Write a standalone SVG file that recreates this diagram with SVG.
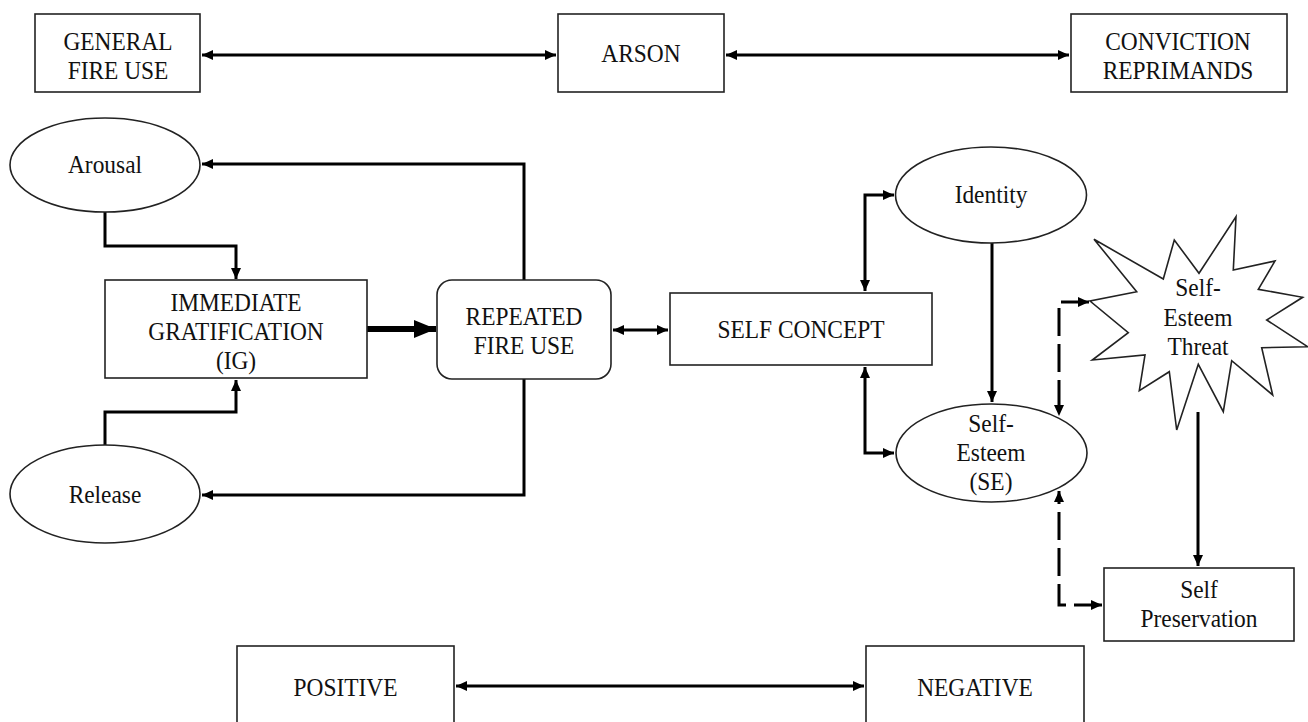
<svg xmlns="http://www.w3.org/2000/svg" width="1308" height="722" viewBox="0 0 1308 722" font-family="Liberation Serif, Times New Roman, serif">
<defs>
<style>
.box{fill:#fff;stroke:#222;stroke-width:1.6}
.t{font-size:26px;fill:#111;text-anchor:middle}
.c{fill:none;stroke:#000;stroke-width:3}
.d{fill:none;stroke:#000;stroke-width:3;stroke-dasharray:28 8}
</style>
<marker id="ah" markerUnits="userSpaceOnUse" markerWidth="11" markerHeight="10" refX="11" refY="5" orient="auto-start-reverse">
<path d="M0,0 L11,5 L0,10 z" fill="#000"/>
</marker>
<marker id="ahb" markerUnits="userSpaceOnUse" markerWidth="22" markerHeight="18" refX="22" refY="9" orient="auto">
<path d="M0,0 L22,9 L0,18 z" fill="#000"/>
</marker>
</defs>

<g id="connectors">
<path class="c" d="M202,55 H556" marker-start="url(#ah)" marker-end="url(#ah)"/>
<path class="c" d="M726,55 H1069" marker-start="url(#ah)" marker-end="url(#ah)"/>
<path class="c" d="M456,686 H864" marker-start="url(#ah)" marker-end="url(#ah)"/>
<path class="c" d="M105,212 V246 H236 V279" marker-end="url(#ah)"/>
<path class="c" d="M105,445 V412 H236 V380" marker-end="url(#ah)"/>
<path class="c" d="M524,280 V164 H202" marker-end="url(#ah)"/>
<path class="c" d="M524,379 V495 H202" marker-end="url(#ah)"/>
<path fill="none" stroke="#000" stroke-width="6" d="M367,329 H436" marker-end="url(#ahb)"/>
<path class="c" d="M613,330 H668" marker-start="url(#ah)" marker-end="url(#ah)"/>
<path class="c" d="M865,291 V195 H894" marker-start="url(#ah)" marker-end="url(#ah)"/>
<path class="c" d="M865,367 V453 H894" marker-start="url(#ah)" marker-end="url(#ah)"/>
<path class="c" d="M992,243 V402" marker-end="url(#ah)"/>
<path class="c" d="M1198,412 V566" marker-end="url(#ah)"/>
<path class="d" d="M1089,302 H1059 V416" marker-start="url(#ah)" marker-end="url(#ah)"/>
<path class="d" d="M1102,605 H1059 V491" marker-start="url(#ah)" marker-end="url(#ah)"/>
</g>

<g id="general-fire-use">
<rect class="box" x="35" y="14" width="165" height="78"/>
<text class="t" transform="translate(118,50) scale(0.9,1)">GENERAL</text>
<text class="t" transform="translate(118,79) scale(0.9,1)">FIRE USE</text>
</g>
<g id="arson">
<rect class="box" x="558" y="14" width="166" height="78"/>
<text class="t" transform="translate(641,62) scale(0.9,1)">ARSON</text>
</g>
<g id="conviction-reprimands">
<rect class="box" x="1071" y="14" width="216" height="78"/>
<text class="t" transform="translate(1178,50) scale(0.9,1)">CONVICTION</text>
<text class="t" transform="translate(1178,79) scale(0.9,1)">REPRIMANDS</text>
</g>

<g id="arousal">
<ellipse class="box" cx="105" cy="165" rx="95" ry="47"/>
<text class="t" transform="translate(105,173) scale(0.9,1)">Arousal</text>
</g>
<g id="release">
<ellipse class="box" cx="105" cy="494" rx="95" ry="49"/>
<text class="t" transform="translate(105,503) scale(0.9,1)">Release</text>
</g>
<g id="immediate-gratification">
<rect class="box" x="105" y="280" width="262" height="98"/>
<text class="t" transform="translate(236,311) scale(0.9,1)">IMMEDIATE</text>
<text class="t" transform="translate(236,340) scale(0.9,1)">GRATIFICATION</text>
<text class="t" transform="translate(236,369) scale(0.9,1)">(IG)</text>
</g>
<g id="repeated-fire-use">
<rect class="box" x="437" y="280" width="174" height="99" rx="15" ry="15"/>
<text class="t" transform="translate(524,325) scale(0.9,1)">REPEATED</text>
<text class="t" transform="translate(524,354) scale(0.9,1)">FIRE USE</text>
</g>
<g id="self-concept">
<rect class="box" x="670" y="293" width="262" height="72"/>
<text class="t" transform="translate(801,338) scale(0.9,1)">SELF CONCEPT</text>
</g>
<g id="identity">
<ellipse class="box" cx="991" cy="195" rx="95.5" ry="48"/>
<text class="t" transform="translate(991,203) scale(0.9,1)">Identity</text>
</g>
<g id="self-esteem">
<ellipse class="box" cx="991.5" cy="453" rx="95.5" ry="49"/>
<text class="t" transform="translate(991,432) scale(0.9,1)">Self-</text>
<text class="t" transform="translate(991,461) scale(0.9,1)">Esteem</text>
<text class="t" transform="translate(991,490) scale(0.9,1)">(SE)</text>
</g>
<g id="self-esteem-threat">
<polygon class="box" points="1094,239.3 1163.3,279 1174.3,240 1199,273.3 1236,216.7 1233.3,270 1275,261 1258.3,289.3 1302.7,297.3 1266.7,320 1307.5,346.7 1261.7,347.7 1272.7,395 1231.7,360.7 1223.3,411.7 1198.3,364.3 1176.7,430 1169.3,371.7 1139.3,390.7 1145,355 1092.3,360 1128.3,332.7 1090,301 1136.7,291.7"/>
<text class="t" transform="translate(1198,296) scale(0.9,1)">Self-</text>
<text class="t" transform="translate(1198,326) scale(0.9,1)">Esteem</text>
<text class="t" transform="translate(1198,355) scale(0.9,1)">Threat</text>
</g>
<g id="self-preservation">
<rect class="box" x="1104" y="568" width="190" height="73"/>
<text class="t" transform="translate(1199,598) scale(0.9,1)">Self</text>
<text class="t" transform="translate(1199,627) scale(0.9,1)">Preservation</text>
</g>

<g id="positive">
<rect class="box" x="237" y="646" width="217" height="90"/>
<text class="t" transform="translate(345.5,696) scale(0.9,1)">POSITIVE</text>
</g>
<g id="negative">
<rect class="box" x="866" y="646" width="218" height="90"/>
<text class="t" transform="translate(975,696) scale(0.9,1)">NEGATIVE</text>
</g>
</svg>
